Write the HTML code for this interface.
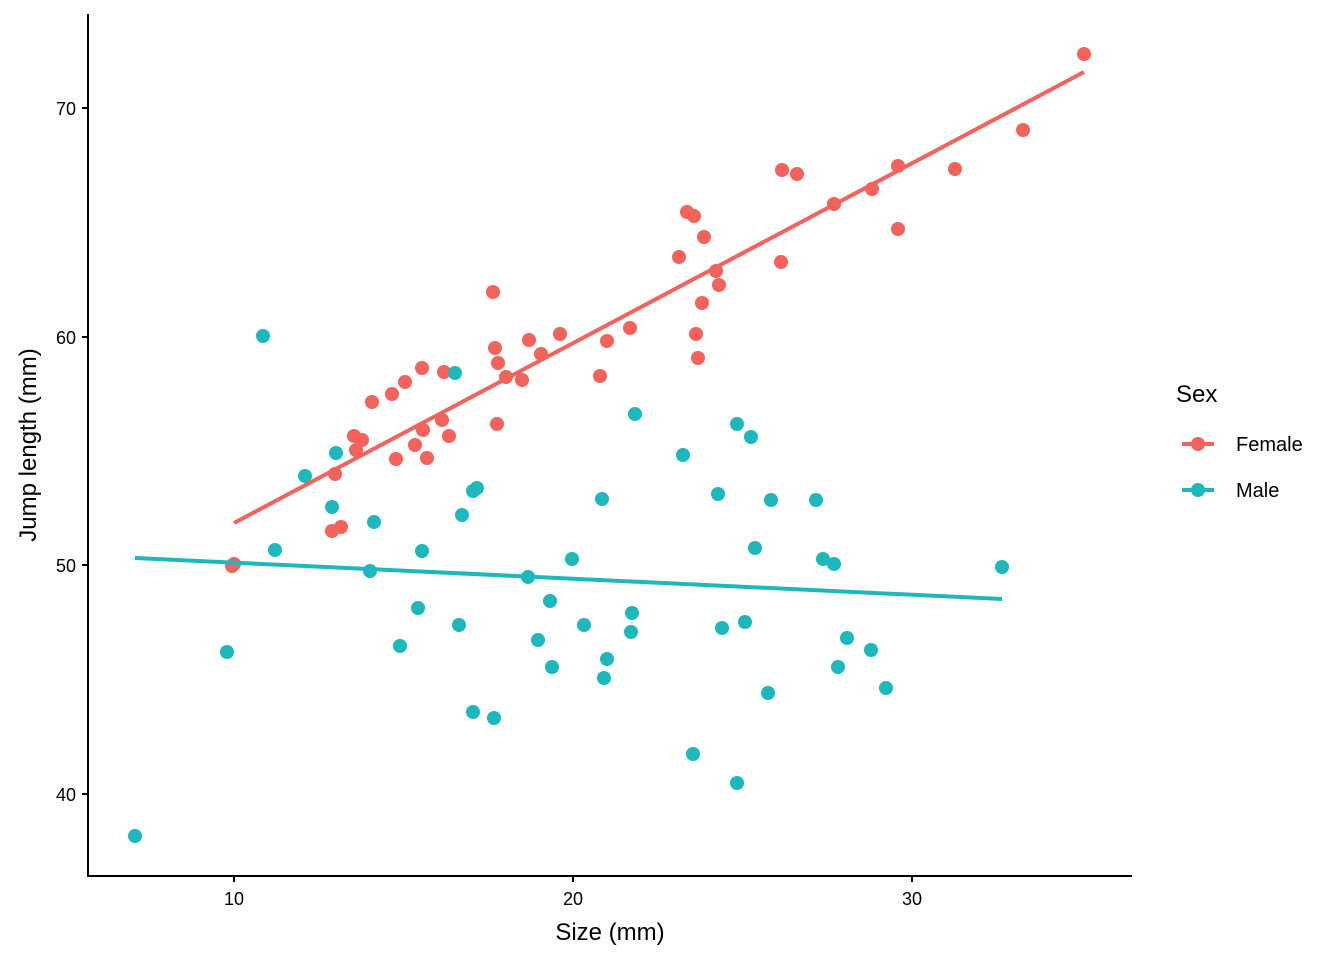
<!DOCTYPE html><html><head><style>body{margin:0;background:#fff}svg{display:block}text{font-family:"Liberation Sans",Arial,sans-serif;fill:#000}</style></head><body>
<svg width="1344" height="960" xmlns="http://www.w3.org/2000/svg">
<g stroke="#000" stroke-width="2" fill="none">
<path d="M88,14V876H1132"/>
<path d="M234,876v6M573,876v6M912,876v6M82,108h6M82,337h6M82,565h6M82,794h6"/>
</g>
<g font-size="18" text-anchor="middle"><text x="234" y="905">10</text><text x="573" y="905">20</text><text x="912" y="905">30</text></g>
<g font-size="18" text-anchor="end"><text x="76" y="115">70</text><text x="76" y="344">60</text><text x="76" y="572">50</text><text x="76" y="801">40</text></g>
<text x="610" y="940" font-size="24" text-anchor="middle">Size (mm)</text>
<text transform="translate(36,445) rotate(-90)" font-size="24" text-anchor="middle">Jump length (mm)</text>
<g fill="#F3625B">
<circle cx="1084" cy="54" r="7"/><circle cx="1023" cy="130" r="7"/><circle cx="955" cy="169" r="7"/><circle cx="898" cy="166" r="7"/><circle cx="872" cy="189" r="7"/><circle cx="834" cy="204" r="7"/><circle cx="782" cy="170" r="7"/><circle cx="797" cy="174" r="7"/><circle cx="898" cy="229" r="7"/><circle cx="781" cy="262" r="7"/><circle cx="687" cy="212" r="7"/><circle cx="694" cy="216" r="7"/><circle cx="704" cy="237" r="7"/><circle cx="679" cy="257" r="7"/><circle cx="716" cy="271" r="7"/><circle cx="719" cy="285" r="7"/><circle cx="702" cy="303" r="7"/><circle cx="696" cy="334" r="7"/><circle cx="698" cy="358" r="7"/><circle cx="630" cy="328" r="7"/><circle cx="607" cy="341" r="7"/><circle cx="600" cy="376" r="7"/><circle cx="560" cy="334" r="7"/><circle cx="541" cy="354" r="7"/><circle cx="529" cy="340" r="7"/><circle cx="522" cy="380" r="7"/><circle cx="506" cy="377" r="7"/><circle cx="498" cy="363" r="7"/><circle cx="495" cy="348" r="7"/><circle cx="493" cy="292" r="7"/><circle cx="497" cy="424" r="7"/><circle cx="422" cy="368" r="7"/><circle cx="444" cy="372" r="7"/><circle cx="405" cy="382" r="7"/><circle cx="392" cy="394" r="7"/><circle cx="372" cy="402" r="7"/><circle cx="442" cy="420" r="7"/><circle cx="449" cy="436" r="7"/><circle cx="423" cy="430" r="7"/><circle cx="415" cy="445" r="7"/><circle cx="427" cy="458" r="7"/><circle cx="396" cy="459" r="7"/><circle cx="362" cy="440" r="7"/><circle cx="354" cy="436" r="7"/><circle cx="356" cy="450" r="7"/><circle cx="335" cy="474" r="7"/><circle cx="341" cy="527" r="7"/><circle cx="332" cy="531" r="7"/><circle cx="234" cy="564" r="7"/><circle cx="232" cy="566" r="7"/>
</g>
<g fill="#1CB8BC">
<circle cx="263" cy="336" r="7"/><circle cx="455" cy="373" r="7"/><circle cx="635" cy="414" r="7"/><circle cx="737" cy="424" r="7"/><circle cx="751" cy="437" r="7"/><circle cx="683" cy="455" r="7"/><circle cx="336" cy="453" r="7"/><circle cx="305" cy="476" r="7"/><circle cx="477" cy="488" r="7"/><circle cx="473" cy="491" r="7"/><circle cx="462" cy="515" r="7"/><circle cx="602" cy="499" r="7"/><circle cx="718" cy="494" r="7"/><circle cx="771" cy="500" r="7"/><circle cx="816" cy="500" r="7"/><circle cx="332" cy="507" r="7"/><circle cx="374" cy="522" r="7"/><circle cx="275" cy="550" r="7"/><circle cx="422" cy="551" r="7"/><circle cx="755" cy="548" r="7"/><circle cx="572" cy="559" r="7"/><circle cx="823" cy="559" r="7"/><circle cx="834" cy="564" r="7"/><circle cx="1002" cy="567" r="7"/><circle cx="370" cy="571" r="7"/><circle cx="528" cy="577" r="7"/><circle cx="550" cy="601" r="7"/><circle cx="418" cy="608" r="7"/><circle cx="632" cy="613" r="7"/><circle cx="459" cy="625" r="7"/><circle cx="584" cy="625" r="7"/><circle cx="745" cy="622" r="7"/><circle cx="722" cy="628" r="7"/><circle cx="631" cy="632" r="7"/><circle cx="847" cy="638" r="7"/><circle cx="538" cy="640" r="7"/><circle cx="400" cy="646" r="7"/><circle cx="871" cy="650" r="7"/><circle cx="227" cy="652" r="7"/><circle cx="607" cy="659" r="7"/><circle cx="552" cy="667" r="7"/><circle cx="838" cy="667" r="7"/><circle cx="604" cy="678" r="7"/><circle cx="768" cy="693" r="7"/><circle cx="886" cy="688" r="7"/><circle cx="473" cy="712" r="7"/><circle cx="494" cy="718" r="7"/><circle cx="693" cy="754" r="7"/><circle cx="737" cy="783" r="7"/><circle cx="135" cy="836" r="7"/>
</g>
<line x1="234" y1="523" x2="1084" y2="72" stroke="#F3625B" stroke-width="4"/>
<line x1="135" y1="558" x2="1002" y2="599" stroke="#1CB8BC" stroke-width="4"/>
<text x="1176" y="402" font-size="24">Sex</text>
<line x1="1182" y1="444" x2="1214" y2="444" stroke="#F3625B" stroke-width="4"/><circle cx="1198" cy="444" r="7" fill="#F3625B"/>
<line x1="1182" y1="490" x2="1214" y2="490" stroke="#1CB8BC" stroke-width="4"/><circle cx="1198" cy="490" r="7" fill="#1CB8BC"/>
<text x="1236" y="451" font-size="20">Female</text>
<text x="1236" y="497" font-size="20">Male</text>
</svg></body></html>
